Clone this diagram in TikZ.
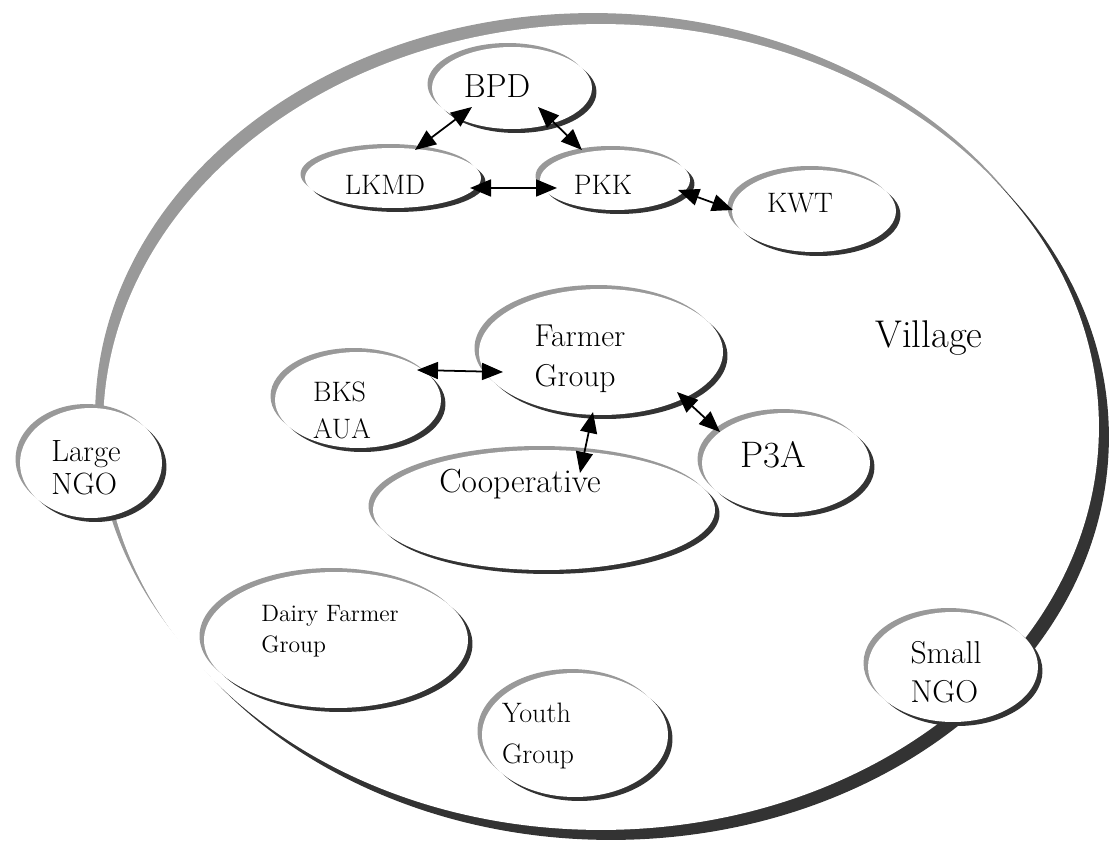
\documentclass[tikz,border=0pt]{standalone}
\usepackage{xcolor}
\usepackage{tikz}
\usetikzlibrary{shapes.geometric, shadows, arrows.meta}
\definecolor{lite}{HTML}{999999}
\definecolor{dark}{HTML}{333333}

\begin{document}
\begin{tikzpicture}[x=0.02cm, y=-0.02cm,
    oval/.style={ellipse, fill=white, inner sep=0pt,
      general shadow={fill=lite, shadow xshift=-0.9mm, shadow yshift=0.8mm},
      general shadow={fill=dark, shadow xshift=0.9mm, shadow yshift=-0.8mm}},
    bigoval/.style={ellipse, fill=white, inner sep=0pt,
      general shadow={fill=lite, shadow xshift=-1.6mm, shadow yshift=2.2mm},
      general shadow={fill=dark, shadow xshift=2mm, shadow yshift=-2mm}},
    txt/.style={align=left, inner sep=0pt},
    link/.style={{Triangle[length=4.2mm,width=3.4mm]}-{Triangle[length=4.2mm,width=3.4mm]}, line width=1pt}]

  \useasboundingbox (0,0) rectangle (1112,844);

  % village
  \node[bigoval, minimum width=19.92cm, minimum height=16.12cm] (village) at (601,427) {};
  \node[txt, font=\fontsize{22}{26}\selectfont] (village-t) at (929,338) {Village};

  % groups
  \node[oval, minimum width=3.2cm, minimum height=1.64cm] (bpd) at (512,88) {};
  \node[oval, minimum width=3.52cm, minimum height=1.2cm] (lkmd) at (393,178) {};
  \node[oval, minimum width=3.0cm, minimum height=1.2cm] (pkk) at (615,180) {};
  \node[oval, minimum width=3.28cm, minimum height=1.64cm] (kwt) at (814,211) {};
  \node[oval, minimum width=4.88cm, minimum height=2.52cm] (farmer) at (601,352) {};
  \node[oval, minimum width=3.32cm, minimum height=1.92cm] (bks) at (358,400) {};
  \node[oval, minimum width=6.84cm, minimum height=2.4cm] (coop) at (544,510) {};
  \node[oval, minimum width=3.36cm, minimum height=2.0cm] (p3a) at (786,463) {};
  \node[oval, minimum width=2.84cm, minimum height=2.2cm] (largengo) at (91,463) {};
  \node[oval, minimum width=3.4cm, minimum height=2.2cm] (smallngo) at (953,667) {};
  \node[oval, minimum width=5.28cm, minimum height=2.72cm] (dairy) at (336,640) {};
  \node[oval, minimum width=3.72cm, minimum height=2.48cm] (youth) at (575,735) {};

  \node[txt, font=\fontsize{19}{22}\selectfont] (bpd-t) at ([shift={(-15,-2)}]bpd.center) {BPD};
  \node[txt, font=\fontsize{16}{19}\selectfont] (lkmd-t) at ([shift={(-8,7)}]lkmd.center) {LKMD};
  \node[txt, font=\fontsize{16}{19}\selectfont] (pkk-t) at ([shift={(-12,5)}]pkk.center) {PKK};
  \node[txt, font=\fontsize{16}{19}\selectfont] (kwt-t) at ([shift={(-14,-8)}]kwt.center) {KWT};
  \node[txt, font=\fontsize{18}{23}\selectfont] (farmer-t) at ([shift={(-21,7)}]farmer.center) {Farmer\\Group};
  \node[txt, font=\fontsize{16}{21}\selectfont] (bks-t) at ([shift={(-16,10)}]bks.center) {BKS\\AUA};
  \node[txt, font=\fontsize{19}{22}\selectfont] (coop-t) at ([shift={(-24,-26)}]coop.center) {Cooperative};
  \node[txt, font=\fontsize{21}{24}\selectfont] (p3a-t) at ([shift={(-13,-8)}]p3a.center) {P3A};
  \node[txt, font=\fontsize{17.5}{19}\selectfont] (largengo-t) at ([shift={(-5,5)}]largengo.center) {Large\\NGO};
  \node[txt, font=\fontsize{18}{22}\selectfont] (smallngo-t) at ([shift={(-7,5)}]smallngo.center) {Small\\NGO};
  \node[txt, font=\fontsize{13.5}{17.5}\selectfont] (dairy-t) at ([shift={(-6,-9)}]dairy.center) {Dairy Farmer\\Group};
  \node[txt, font=\fontsize{16}{22.8}\selectfont] (youth-t) at ([shift={(-37,1)}]youth.center) {Youth\\Group};

  % links
  \draw[link] ([shift={(-40,19)}]bpd.center) -- ([shift={(22,-28)}]lkmd.center);
  \draw[link] ([shift={(26,19)}]bpd.center) -- ([shift={(-33,-30)}]pkk.center);
  \draw[link] ([shift={(77,10)}]lkmd.center) -- ([shift={(-58,8)}]pkk.center);
  \draw[link] ([shift={(63,10)}]pkk.center) -- ([shift={(-81,-1)}]kwt.center);
  \draw[link] ([shift={(59,-30)}]bks.center) -- ([shift={(-98,20)}]farmer.center);
  \draw[link] ([shift={(76,40)}]farmer.center) -- ([shift={(-66,-31)}]p3a.center);
  \draw[link] ([shift={(-8,60)}]farmer.center) -- ([shift={(36,-37)}]coop.center);
\end{tikzpicture}
\end{document}
